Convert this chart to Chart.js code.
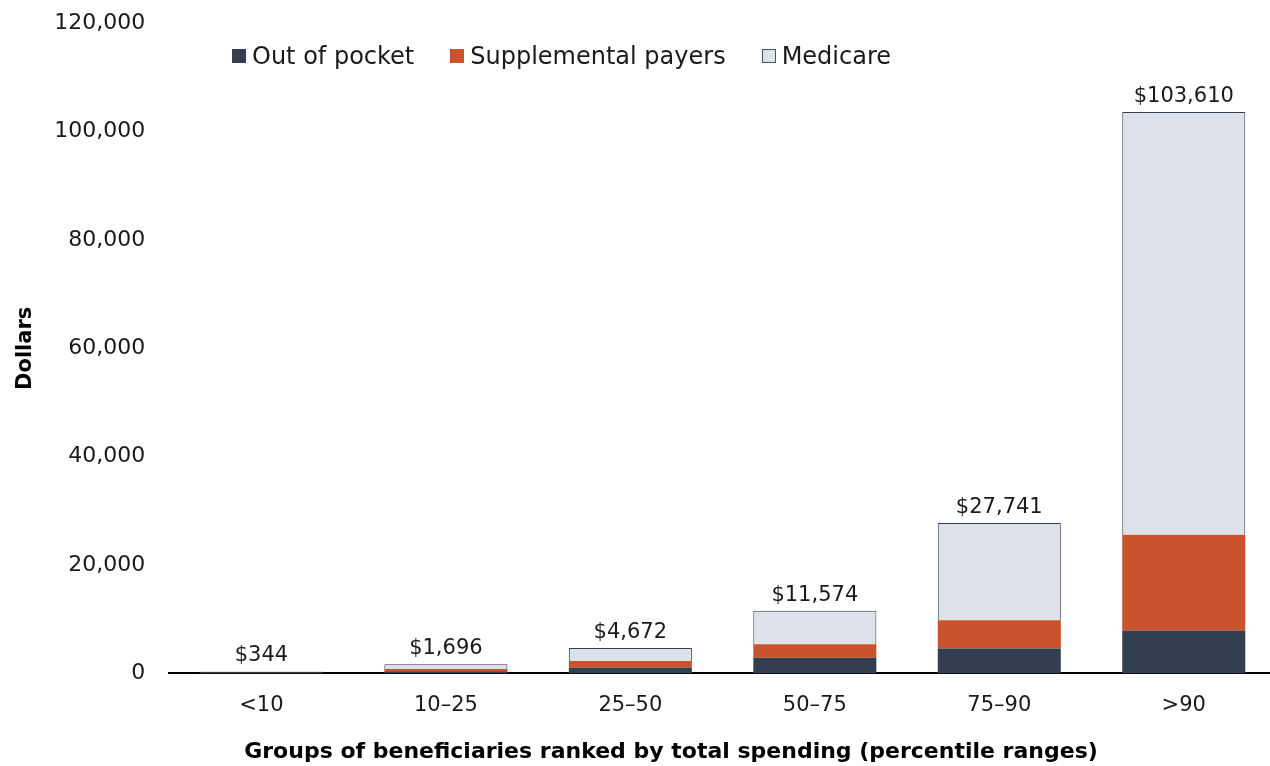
<!DOCTYPE html>
<html>
<head>
<meta charset="utf-8">
<script src="https://cdn.jsdelivr.net/npm/chart.js@4"></script>
<style>
  body { margin: 0; background: #fff; }
  #wrap { position: relative; width: 1270px; height: 766px; overflow: hidden; }
  #myChart { position: absolute; left: 0; top: -6px; }
  #legend { position: absolute; left: 232px; top: 42px; font-family: "DejaVu Sans", sans-serif; font-size: 24px; color: #1a1a1a; display: flex; }
  #legend span.item { display: flex; align-items: center; margin-right: 36px; }
  #legend span.box { width: 14px; height: 14px; display: inline-block; margin-right: 6px; box-sizing: border-box; }
</style>
</head>
<body>
<div id="wrap">
  <canvas id="myChart" width="1276" height="772"></canvas>
  <div id="legend"></div>
</div>
<script>
const labels = ['<10', '10–25', '25–50', '50–75', '75–90', '>90'];
const outOfPocket = [170, 400, 1050, 2900, 4600, 7900];
const supplemental = [70, 400, 1250, 2500, 5200, 17700];
const medicare = [104, 896, 2372, 6174, 17941, 78010];
const totals = ['$344', '$1,696', '$4,672', '$11,574', '$27,741', '$103,610'];

const colors = ['#333f50', '#c9532d', '#dde2ea'];
const names = ['Out of pocket', 'Supplemental payers', 'Medicare'];
const xTitle = 'Groups of beneficiaries ranked by total spending (percentile ranges)';

const ctx = document.getElementById('myChart').getContext('2d');
const fontFamily = '"DejaVu Sans", sans-serif';

// legend drawn as html so it can sit left of centre like the original
const legend = document.getElementById('legend');
names.forEach((n, i) => {
    const item = document.createElement('span');
    item.className = 'item';
    const box = document.createElement('span');
    box.className = 'box';
    box.style.background = colors[i];
    if (i === 2) box.style.border = '1px solid #44546a';
    item.appendChild(box);
    item.appendChild(document.createTextNode(n));
    legend.appendChild(item);
});

const totalLabels = {
    id: 'totalLabels',
    afterDatasetsDraw(chart) {
        const c = chart.ctx;
        const meta = chart.getDatasetMeta(2);
        c.save();
        c.font = '21px ' + fontFamily;
        c.fillStyle = '#1a1a1a';
        c.textAlign = 'center';
        c.textBaseline = 'bottom';
        meta.data.forEach((bar, i) => {
            c.fillText(totals[i], bar.x, bar.y - 5);
        });
        // x title sits left of the plot centre in the original
        c.font = 'bold 22px ' + fontFamily;
        c.fillStyle = '#000';
        c.textBaseline = 'middle';
        c.fillText(xTitle, 671, chart.height - 14);
        c.restore();
    }
};

const data = {
    labels,
    datasets: [
        { label: names[0], data: outOfPocket, backgroundColor: colors[0], borderWidth: 0 },
        { label: names[1], data: supplemental, backgroundColor: colors[1], borderWidth: 0 },
        { label: names[2], data: medicare, backgroundColor: colors[2], borderColor: '#333f50', borderWidth: 1 },
    ],
};

const config = {
    type: 'bar',
    data: data,
    plugins: [totalLabels],
    options: {
        responsive: false,
        animation: false,
        layout: { padding: { top: 0, right: 0, bottom: 0, left: 13 } },
        datasets: { bar: { barPercentage: 0.667, categoryPercentage: 1 } },
        plugins: {
            legend: { display: false },
            tooltip: { enabled: false },
        },
        scales: {
            x: {
                stacked: true,
                grid: { display: false },
                border: { display: true, color: '#000', width: 2 },
                ticks: { color: '#1a1a1a', font: { family: fontFamily, size: 21 }, padding: 12 },
                title: {
                    // keeps the space; the text itself is drawn by the plugin
                    display: true,
                    text: xTitle,
                    color: 'rgba(0,0,0,0)',
                    font: { family: fontFamily, size: 22, weight: 'bold' },
                    padding: { top: 9, bottom: 0 },
                },
            },
            y: {
                stacked: true,
                min: 0,
                max: 120000,
                grid: { display: false },
                border: { display: false },
                ticks: {
                    stepSize: 20000,
                    color: '#1a1a1a',
                    font: { family: fontFamily, size: 22 },
                    padding: 16,
                    callback: function(value) {
                        return value.toLocaleString('en-US');
                    },
                },
                title: {
                    display: true,
                    text: 'Dollars',
                    color: '#000',
                    font: { family: fontFamily, size: 21, weight: 'bold' },
                    padding: { top: 0, bottom: 0 },
                },
            },
        },
    },
};

const myChart = new Chart(ctx, config);
</script>
</body>
</html>
